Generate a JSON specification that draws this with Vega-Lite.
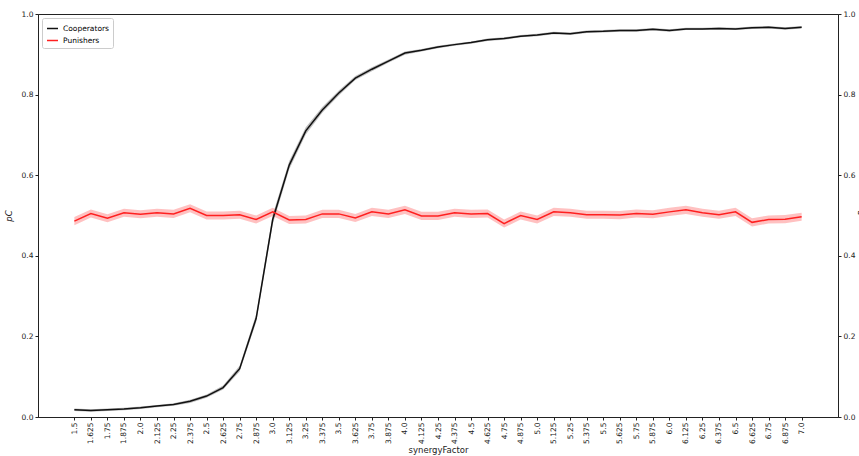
{
  "$schema": "https://vega.github.io/schema/vega-lite/v6.json",
  "width": 800,
  "height": 403,
  "autosize": {"type": "none"},
  "padding": {"left": 38, "top": 14, "right": 21, "bottom": 39},
  "background": "white",
  "config": {
    "font": "DejaVu Sans",
    "view": {"stroke": "#222", "strokeWidth": 1},
    "axis": {"grid": false, "domainColor": "#222", "tickColor": "#222", "labelColor": "#222", "titleColor": "#222", "labelFontSize": 7.5, "titleFontSize": 8.5, "titleFontWeight": "normal", "tickSize": 3, "labelPadding": 2},
    "legend": {"title": null, "orient": "top-left", "offset": 4, "symbolType": "stroke", "symbolStrokeWidth": 1.5, "symbolSize": 120, "labelFontSize": 7.5, "strokeColor": "#ccc", "fillColor": "white", "padding": 4, "cornerRadius": 2, "rowPadding": 2, "symbolOpacity": 1}
  },
  "data": {"values": [
    {"s":1.5,"series":"Cooperators","v":0.018,"lo":0.015,"hi":0.021},
    {"s":1.625,"series":"Cooperators","v":0.016,"lo":0.013,"hi":0.019},
    {"s":1.75,"series":"Cooperators","v":0.018,"lo":0.015,"hi":0.021},
    {"s":1.875,"series":"Cooperators","v":0.020,"lo":0.017,"hi":0.023},
    {"s":2.0,"series":"Cooperators","v":0.023,"lo":0.020,"hi":0.026},
    {"s":2.125,"series":"Cooperators","v":0.027,"lo":0.024,"hi":0.030},
    {"s":2.25,"series":"Cooperators","v":0.031,"lo":0.028,"hi":0.034},
    {"s":2.375,"series":"Cooperators","v":0.039,"lo":0.035,"hi":0.043},
    {"s":2.5,"series":"Cooperators","v":0.052,"lo":0.048,"hi":0.056},
    {"s":2.625,"series":"Cooperators","v":0.073,"lo":0.068,"hi":0.078},
    {"s":2.75,"series":"Cooperators","v":0.120,"lo":0.113,"hi":0.127},
    {"s":2.875,"series":"Cooperators","v":0.245,"lo":0.235,"hi":0.255},
    {"s":3.0,"series":"Cooperators","v":0.490,"lo":0.478,"hi":0.502},
    {"s":3.125,"series":"Cooperators","v":0.625,"lo":0.615,"hi":0.635},
    {"s":3.25,"series":"Cooperators","v":0.710,"lo":0.701,"hi":0.719},
    {"s":3.375,"series":"Cooperators","v":0.762,"lo":0.755,"hi":0.769},
    {"s":3.5,"series":"Cooperators","v":0.804,"lo":0.798,"hi":0.810},
    {"s":3.625,"series":"Cooperators","v":0.841,"lo":0.836,"hi":0.846},
    {"s":3.75,"series":"Cooperators","v":0.863,"lo":0.858,"hi":0.868},
    {"s":3.875,"series":"Cooperators","v":0.883,"lo":0.879,"hi":0.887},
    {"s":4.0,"series":"Cooperators","v":0.903,"lo":0.899,"hi":0.907},
    {"s":4.125,"series":"Cooperators","v":0.910,"lo":0.907,"hi":0.913},
    {"s":4.25,"series":"Cooperators","v":0.918,"lo":0.915,"hi":0.921},
    {"s":4.375,"series":"Cooperators","v":0.924,"lo":0.921,"hi":0.927},
    {"s":4.5,"series":"Cooperators","v":0.929,"lo":0.926,"hi":0.932},
    {"s":4.625,"series":"Cooperators","v":0.936,"lo":0.933,"hi":0.939},
    {"s":4.75,"series":"Cooperators","v":0.939,"lo":0.936,"hi":0.942},
    {"s":4.875,"series":"Cooperators","v":0.945,"lo":0.942,"hi":0.948},
    {"s":5.0,"series":"Cooperators","v":0.948,"lo":0.945,"hi":0.951},
    {"s":5.125,"series":"Cooperators","v":0.953,"lo":0.950,"hi":0.956},
    {"s":5.25,"series":"Cooperators","v":0.951,"lo":0.948,"hi":0.954},
    {"s":5.375,"series":"Cooperators","v":0.956,"lo":0.953,"hi":0.959},
    {"s":5.5,"series":"Cooperators","v":0.957,"lo":0.954,"hi":0.960},
    {"s":5.625,"series":"Cooperators","v":0.959,"lo":0.956,"hi":0.962},
    {"s":5.75,"series":"Cooperators","v":0.959,"lo":0.956,"hi":0.962},
    {"s":5.875,"series":"Cooperators","v":0.962,"lo":0.959,"hi":0.965},
    {"s":6.0,"series":"Cooperators","v":0.959,"lo":0.956,"hi":0.962},
    {"s":6.125,"series":"Cooperators","v":0.963,"lo":0.960,"hi":0.966},
    {"s":6.25,"series":"Cooperators","v":0.963,"lo":0.960,"hi":0.966},
    {"s":6.375,"series":"Cooperators","v":0.964,"lo":0.961,"hi":0.967},
    {"s":6.5,"series":"Cooperators","v":0.963,"lo":0.960,"hi":0.966},
    {"s":6.625,"series":"Cooperators","v":0.966,"lo":0.963,"hi":0.969},
    {"s":6.75,"series":"Cooperators","v":0.967,"lo":0.964,"hi":0.970},
    {"s":6.875,"series":"Cooperators","v":0.964,"lo":0.961,"hi":0.967},
    {"s":7.0,"series":"Cooperators","v":0.967,"lo":0.964,"hi":0.970},
    {"s":1.5,"series":"Punishers","v":0.486,"lo":0.476,"hi":0.496},
    {"s":1.625,"series":"Punishers","v":0.505,"lo":0.495,"hi":0.515},
    {"s":1.75,"series":"Punishers","v":0.493,"lo":0.483,"hi":0.503},
    {"s":1.875,"series":"Punishers","v":0.507,"lo":0.497,"hi":0.517},
    {"s":2.0,"series":"Punishers","v":0.503,"lo":0.493,"hi":0.513},
    {"s":2.125,"series":"Punishers","v":0.507,"lo":0.497,"hi":0.517},
    {"s":2.25,"series":"Punishers","v":0.504,"lo":0.494,"hi":0.514},
    {"s":2.375,"series":"Punishers","v":0.518,"lo":0.508,"hi":0.528},
    {"s":2.5,"series":"Punishers","v":0.500,"lo":0.490,"hi":0.510},
    {"s":2.625,"series":"Punishers","v":0.500,"lo":0.490,"hi":0.510},
    {"s":2.75,"series":"Punishers","v":0.502,"lo":0.492,"hi":0.512},
    {"s":2.875,"series":"Punishers","v":0.490,"lo":0.480,"hi":0.500},
    {"s":3.0,"series":"Punishers","v":0.509,"lo":0.499,"hi":0.519},
    {"s":3.125,"series":"Punishers","v":0.489,"lo":0.479,"hi":0.499},
    {"s":3.25,"series":"Punishers","v":0.490,"lo":0.480,"hi":0.500},
    {"s":3.375,"series":"Punishers","v":0.504,"lo":0.494,"hi":0.514},
    {"s":3.5,"series":"Punishers","v":0.504,"lo":0.494,"hi":0.514},
    {"s":3.625,"series":"Punishers","v":0.494,"lo":0.484,"hi":0.504},
    {"s":3.75,"series":"Punishers","v":0.509,"lo":0.499,"hi":0.519},
    {"s":3.875,"series":"Punishers","v":0.504,"lo":0.494,"hi":0.514},
    {"s":4.0,"series":"Punishers","v":0.514,"lo":0.504,"hi":0.524},
    {"s":4.125,"series":"Punishers","v":0.499,"lo":0.489,"hi":0.509},
    {"s":4.25,"series":"Punishers","v":0.499,"lo":0.489,"hi":0.509},
    {"s":4.375,"series":"Punishers","v":0.507,"lo":0.497,"hi":0.517},
    {"s":4.5,"series":"Punishers","v":0.504,"lo":0.494,"hi":0.514},
    {"s":4.625,"series":"Punishers","v":0.505,"lo":0.495,"hi":0.515},
    {"s":4.75,"series":"Punishers","v":0.480,"lo":0.470,"hi":0.490},
    {"s":4.875,"series":"Punishers","v":0.500,"lo":0.490,"hi":0.510},
    {"s":5.0,"series":"Punishers","v":0.490,"lo":0.480,"hi":0.500},
    {"s":5.125,"series":"Punishers","v":0.509,"lo":0.499,"hi":0.519},
    {"s":5.25,"series":"Punishers","v":0.507,"lo":0.497,"hi":0.517},
    {"s":5.375,"series":"Punishers","v":0.502,"lo":0.492,"hi":0.512},
    {"s":5.5,"series":"Punishers","v":0.502,"lo":0.492,"hi":0.512},
    {"s":5.625,"series":"Punishers","v":0.501,"lo":0.491,"hi":0.511},
    {"s":5.75,"series":"Punishers","v":0.505,"lo":0.495,"hi":0.515},
    {"s":5.875,"series":"Punishers","v":0.503,"lo":0.493,"hi":0.513},
    {"s":6.0,"series":"Punishers","v":0.509,"lo":0.499,"hi":0.519},
    {"s":6.125,"series":"Punishers","v":0.514,"lo":0.504,"hi":0.524},
    {"s":6.25,"series":"Punishers","v":0.507,"lo":0.497,"hi":0.517},
    {"s":6.375,"series":"Punishers","v":0.502,"lo":0.492,"hi":0.512},
    {"s":6.5,"series":"Punishers","v":0.509,"lo":0.499,"hi":0.519},
    {"s":6.625,"series":"Punishers","v":0.483,"lo":0.473,"hi":0.493},
    {"s":6.75,"series":"Punishers","v":0.490,"lo":0.480,"hi":0.500},
    {"s":6.875,"series":"Punishers","v":0.491,"lo":0.481,"hi":0.501},
    {"s":7.0,"series":"Punishers","v":0.497,"lo":0.487,"hi":0.507}
  ]},
  "encoding": {
    "x": {"field": "s", "type": "quantitative", "scale": {"domain": [1.225, 7.275], "nice": false, "zero": false},
          "axis": {"title": "synergyFactor", "labelAngle": 270, "titlePadding": 2,
                   "values": [1.5,1.625,1.75,1.875,2.0,2.125,2.25,2.375,2.5,2.625,2.75,2.875,3.0,3.125,3.25,3.375,3.5,3.625,3.75,3.875,4.0,4.125,4.25,4.375,4.5,4.625,4.75,4.875,5.0,5.125,5.25,5.375,5.5,5.625,5.75,5.875,6.0,6.125,6.25,6.375,6.5,6.625,6.75,6.875,7.0],
                   "labelExpr": "datum.value % 1 === 0 ? format(datum.value, '.1f') : toString(datum.value)",
                   "labelOverlap": false, "labelFlush": false}}
  },
  "layer": [
    {
      "mark": {"type": "area", "opacity": 0.28},
      "encoding": {
        "y": {"field": "lo", "type": "quantitative", "scale": {"domain": [0, 1]},
              "axis": {"orient": "left", "title": "pC", "titleFontStyle": "italic", "values": [0, 0.2, 0.4, 0.6, 0.8, 1.0], "format": ".1f", "titlePadding": 8}},
        "y2": {"field": "hi"},
        "color": {"field": "series", "type": "nominal", "scale": {"domain": ["Cooperators", "Punishers"], "range": ["#111111", "#ff2020"]}}
      }
    },
    {
      "mark": {"type": "line", "strokeWidth": 1.5},
      "encoding": {
        "y": {"field": "v", "type": "quantitative", "scale": {"domain": [0, 1]},
              "axis": {"orient": "right", "title": "pP", "titleFontStyle": "italic", "titleAngle": 270, "values": [0, 0.2, 0.4, 0.6, 0.8, 1.0], "format": ".1f", "titlePadding": 12}},
        "color": {"field": "series", "type": "nominal"}
      }
    }
  ],
  "resolve": {"axis": {"y": "independent"}}
}
